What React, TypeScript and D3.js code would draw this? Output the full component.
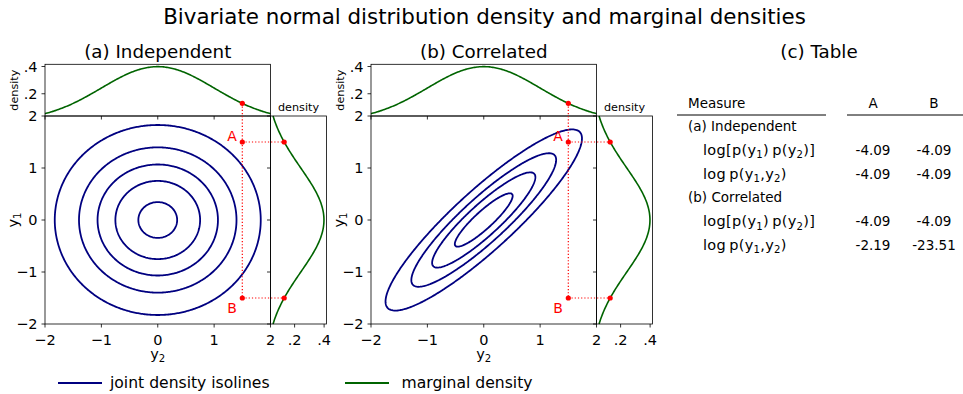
import React from "react";
import * as d3 from "d3";

// ---- data ----
const chartTitle = "Bivariate normal distribution density and marginal densities";
const panelTitles = ["(a) Independent", "(b) Correlated"];
const panelCorrelations = [0, 0.9];
const panelContourLevels = [
  [0.03, 0.06, 0.09, 0.12, 0.15],
  [0.08, 0.16, 0.24, 0.32],
];
const axisRange = [-2, 2];
const axisTicks = [-2, -1, 0, 1, 2];
const densityTicks = [0.2, 0.4];
const densityTickLabels = [".2", ".4"];
const markedPoints = [
  { name: "A", y2: 1.5, y1: 1.5 },
  { name: "B", y2: 1.5, y1: -1.5 },
];

const tableTitle = "(c) Table";
const tableHeader = ["Measure", "A", "B"];
const tableLabels = [
  "(a) Independent",
  "log[p(y_1)\u2009p(y_2)]",
  "log\u2009p(y_1,y_2)",
  "(b) Correlated",
  "log[p(y_1)\u2009p(y_2)]",
  "log\u2009p(y_1,y_2)",
];
const tableIsMath = [false, true, true, false, true, true];
const tableA = ["", "-4.09", "-4.09", "", "-4.09", "-2.19"];
const tableB = ["", "-4.09", "-4.09", "", "-4.09", "-23.51"];

const legendLabels = ["joint density isolines", "marginal density"];
const legendColors = ["#000080", "#006400"];

// ---- layout ----
const FONT = "DejaVu Sans, Liberation Sans, sans-serif";
const panelLefts = [45, 371];
const mainW = 225.5;
const mainTop = 116;
const mainH = 208;
const margTop = 64.3;
const margW = 56;
const tickFs = 14.5;

const normalPdf = (v: number) => Math.exp((-v * v) / 2) / Math.sqrt(2 * Math.PI);
const jointPdf = (a: number, b: number, rho: number) => {
  const q = 1 - rho * rho;
  return Math.exp(-(a * a - 2 * rho * a * b + b * b) / (2 * q)) / (2 * Math.PI * Math.sqrt(q));
};
const fmtTick = (t: number) => (t < 0 ? "\u2212" + Math.abs(t) : String(t));

// text with _1 style subscripts
function SubText({ text, x, y, size, anchor, rotate, spacing }: any) {
  const parts = text.split(/(_\d)/).filter((p: string) => p.length);
  let prevSub = false;
  const shift = size * 0.24;
  return (
    <text
      x={x}
      y={y}
      fontSize={size}
      letterSpacing={spacing || 0}
      textAnchor={anchor || "start"}
      transform={rotate ? `rotate(${rotate},${x},${y})` : undefined}
    >
      {parts.map((p: string, i: number) => {
        if (p[0] === "_") {
          prevSub = true;
          return (
            <tspan key={i} fontSize={size * 0.7} dy={shift}>
              {p.slice(1)}
            </tspan>
          );
        }
        const dy = prevSub ? -shift : 0;
        prevSub = false;
        return (
          <tspan key={i} dy={dy}>
            {p}
          </tspan>
        );
      })}
    </text>
  );
}

function Panel({ idx }: { idx: number }) {
  const left = panelLefts[idx];
  const right = left + mainW;
  const bottom = mainTop + mainH;
  const rho = panelCorrelations[idx];

  const x = d3.scaleLinear().domain(axisRange).range([left, right]);
  const y = d3.scaleLinear().domain(axisRange).range([bottom, mainTop]);

  const grid = d3.range(axisRange[0], axisRange[1] + 1e-9, 0.02);
  const [dmin, dmax] = d3.extent(grid.map(normalPdf)) as [number, number];
  const pad = (dmax - dmin) * 0.05;
  const dDomain = [dmin - pad, dmax + pad];
  const topY = d3.scaleLinear().domain(dDomain).range([mainTop, margTop]);
  const rightX = d3.scaleLinear().domain(dDomain).range([right, right + margW]);

  const topLine = d3
    .line<number>()
    .x((v) => x(v))
    .y((v) => topY(normalPdf(v)))(grid);
  const rightLine = d3
    .line<number>()
    .x((v) => rightX(normalPdf(v)))
    .y((v) => y(v))(grid);

  // contour grid
  const n = 240;
  const g0 = -2.4;
  const step = 4.8 / n;
  const values = new Array(n * n);
  for (let j = 0; j < n; j++)
    for (let i = 0; i < n; i++)
      values[j * n + i] = jointPdf(g0 + (i + 0.5) * step, g0 + (j + 0.5) * step, rho);
  const contours = d3.contours().size([n, n]).thresholds(panelContourLevels[idx])(values);
  const path = d3.geoPath(
    d3.geoTransform({
      point(px: number, py: number) {
        (this as any).stream.point(x(g0 + px * step), y(g0 + py * step));
      },
    })
  );

  const clipId = `clip-main-${idx}`;
  const A = markedPoints[0];
  const B = markedPoints[1];
  const topMark = topY(normalPdf(A.y2));

  return (
    <g fontFamily={FONT}>
      <defs>
        <clipPath id={clipId}>
          <rect x={left} y={mainTop} width={mainW} height={mainH} />
        </clipPath>
      </defs>

      <text x={left + mainW / 2} y={58} fontSize={18.3} textAnchor="middle">
        {panelTitles[idx]}
      </text>

      {/* contours */}
      <g clipPath={`url(#${clipId})`}>
        {contours.map((c, i) => (
          <path key={i} d={path(c as any) || ""} fill="none" stroke={legendColors[0]} strokeWidth={1.8} />
        ))}
      </g>

      {/* marginal curves */}
      <path d={topLine || ""} fill="none" stroke={legendColors[1]} strokeWidth={1.6} />
      <path d={rightLine || ""} fill="none" stroke={legendColors[1]} strokeWidth={1.6} />

      {/* frames */}
      <g fill="none" stroke="#000" strokeWidth={0.8}>
        <rect x={left} y={mainTop} width={mainW} height={mainH} />
        <rect x={left} y={margTop} width={mainW} height={mainTop - margTop} />
        <rect x={right} y={mainTop} width={margW} height={mainH} />
      </g>

      {/* main x ticks */}
      {axisTicks.map((t) => (
        <g key={"x" + t}>
          <line x1={x(t)} x2={x(t)} y1={bottom} y2={bottom + 3.5} stroke="#000" strokeWidth={0.8} />
          <line x1={x(t)} x2={x(t)} y1={mainTop} y2={mainTop + 3.5} stroke="#000" strokeWidth={0.8} />
          <text x={x(t)} y={bottom + 21} fontSize={tickFs} textAnchor="middle">
            {fmtTick(t)}
          </text>
        </g>
      ))}
      {/* main y ticks */}
      {axisTicks.map((t) => (
        <g key={"y" + t}>
          <line x1={left - 3.5} x2={left} y1={y(t)} y2={y(t)} stroke="#000" strokeWidth={0.8} />
          <line x1={right - 3.5} x2={right} y1={y(t)} y2={y(t)} stroke="#000" strokeWidth={0.8} />
          <text x={left - 7.5} y={y(t) + 5.2} fontSize={tickFs} textAnchor="end">
            {fmtTick(t)}
          </text>
        </g>
      ))}
      {/* density ticks */}
      {densityTicks.map((t, i) => (
        <g key={"d" + t}>
          <line x1={left - 3.5} x2={left} y1={topY(t)} y2={topY(t)} stroke="#000" strokeWidth={0.8} />
          <text x={left - 7.5} y={topY(t) + 5.2} fontSize={tickFs} textAnchor="end">
            {densityTickLabels[i]}
          </text>
          <line x1={rightX(t)} x2={rightX(t)} y1={bottom} y2={bottom + 3.5} stroke="#000" strokeWidth={0.8} />
          <text x={rightX(t)} y={bottom + 21} fontSize={tickFs} textAnchor="middle">
            {densityTickLabels[i]}
          </text>
        </g>
      ))}

      {/* axis labels */}
      <SubText text="y_2" x={left + mainW / 2} y={bottom + 35} size={tickFs} anchor="middle" />
      <SubText text="y_1" x={left - 27.5} y={mainTop + mainH / 2} size={tickFs} anchor="middle" rotate={-90} />
      <text
        x={left - 26.5}
        y={(margTop + mainTop) / 2}
        fontSize={11.2}
        textAnchor="middle"
        transform={`rotate(-90,${left - 26.5},${(margTop + mainTop) / 2})`}
      >
        density
      </text>
      <text x={right + margW / 2} y={111} fontSize={11.2} textAnchor="middle">
        density
      </text>

      {/* marked points */}
      <g stroke="#ff0000" strokeWidth={1.2} strokeDasharray="1.2,2" fill="none">
        <line x1={x(A.y2)} x2={x(B.y2)} y1={topMark} y2={y(B.y1)} />
        {markedPoints.map((p) => (
          <line key={p.name} x1={x(p.y2)} x2={rightX(normalPdf(p.y1))} y1={y(p.y1)} y2={y(p.y1)} />
        ))}
      </g>
      <g fill="#ff0000">
        <circle cx={x(A.y2)} cy={topMark} r={2.6} />
        {markedPoints.map((p) => (
          <g key={p.name}>
            <circle cx={x(p.y2)} cy={y(p.y1)} r={2.6} />
            <circle cx={rightX(normalPdf(p.y1))} cy={y(p.y1)} r={2.6} />
            <text
              x={x(p.y2) - 5.5}
              y={p.y1 > 0 ? y(p.y1) - 1.5 : y(p.y1) + 14.5}
              fontSize={14}
              textAnchor="end"
            >
              {p.name}
            </text>
          </g>
        ))}
      </g>
    </g>
  );
}

function Table() {
  const fs = 13.5;
  const colA = 873;
  const colB = 934;
  const rowY = d3.scaleLinear().domain([0, 1]).range([131, 154.8]);
  return (
    <g fontFamily={FONT} fontSize={fs}>
      <text x={819} y={58} fontSize={18.3} textAnchor="middle">
        {tableTitle}
      </text>
      <text x={688} y={108}>{tableHeader[0]}</text>
      <text x={colA} y={108} textAnchor="middle">{tableHeader[1]}</text>
      <text x={colB} y={108} textAnchor="middle">{tableHeader[2]}</text>
      <line x1={677} x2={826} y1={115} y2={115} stroke="#000" strokeWidth={1} />
      <line x1={847} x2={963} y1={115} y2={115} stroke="#000" strokeWidth={1} />
      {tableLabels.map((lab, i) => (
        <g key={i}>
          {tableIsMath[i] ? (
            <SubText text={lab} x={703} y={rowY(i)} size={14.5} spacing={0.3} />
          ) : (
            <text x={688} y={rowY(i)}>{lab}</text>
          )}
          <text x={colA} y={rowY(i)} textAnchor="middle">{tableA[i]}</text>
          <text x={colB} y={rowY(i)} textAnchor="middle">{tableB[i]}</text>
        </g>
      ))}
    </g>
  );
}

function Legend() {
  const starts = [58, 345];
  const textX = [110, 401.5];
  return (
    <g fontFamily={FONT} fontSize={15.6}>
      {legendLabels.map((lab, i) => (
        <g key={lab}>
          <line x1={starts[i]} x2={starts[i] + 44} y1={383} y2={383} stroke={legendColors[i]} strokeWidth={2} />
          <text x={textX[i]} y={388}>{lab}</text>
        </g>
      ))}
    </g>
  );
}

export default function App() {
  return (
    <svg
      width={963}
      height={394}
      style={{ position: "absolute", left: 0, top: 0, background: "#fff" }}
    >
      <rect width={963} height={394} fill="#fff" />
      <text x={484.5} y={24} fontSize={21.4} textAnchor="middle" fontFamily={FONT}>
        {chartTitle}
      </text>
      {panelTitles.map((_, i) => (
        <Panel key={i} idx={i} />
      ))}
      <Table />
      <Legend />
    </svg>
  );
}
